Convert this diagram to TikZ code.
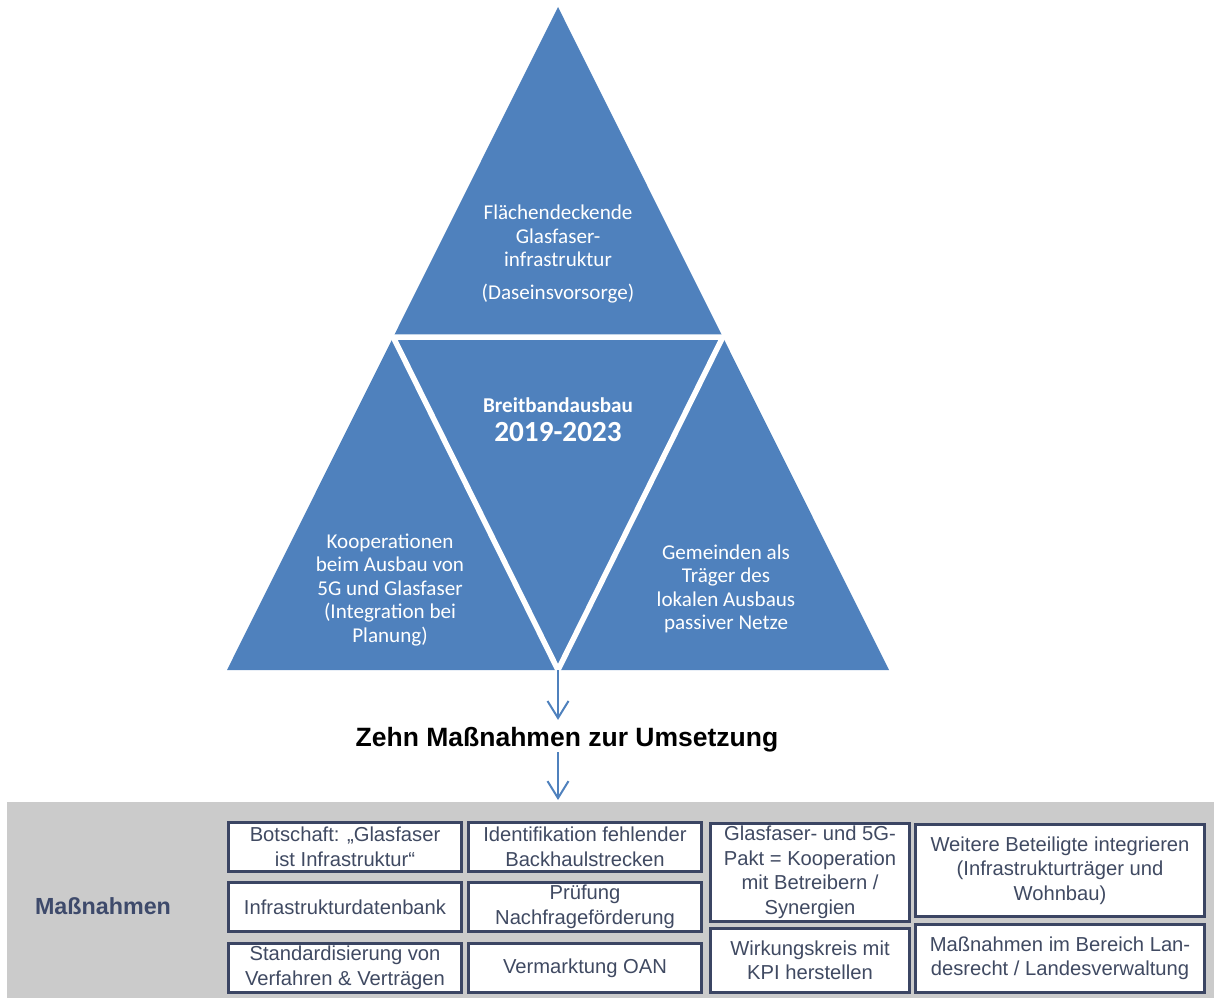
\documentclass[tikz,border=0pt]{standalone}
\usepackage{fontspec}
\usepackage{xcolor}
\usetikzlibrary{arrows.meta}
\newfontfamily\calib{Carlito}
\newfontfamily\arialfont{Liberation Sans}
\definecolor{pyrblue}{HTML}{4F81BD}
\definecolor{boxline}{HTML}{3B4563}
\definecolor{boxtext}{HTML}{404A62}
\definecolor{labelblue}{HTML}{3E4A6B}
\definecolor{bandgray}{HTML}{CBCBCB}

\begin{document}
\begin{tikzpicture}[x=1pt, y=-1pt,
    tritext/.style={text=white, align=center, inner sep=0pt, font=\calib\fontsize{21.1}{23.5}\selectfont},
    mbox/.style={draw=boxline, line width=3pt, fill=white, text=boxtext, align=center, inner sep=0pt,
      font=\arialfont\fontsize{20.2}{24.5}\selectfont},
    arr/.style={draw=pyrblue, line width=2pt, -{Straight Barb[length=17pt, width=21pt]}}]
      \useasboundingbox (0,0) rectangle (1214,998);
      \coordinate (pyrtop) at (558,7);
      \coordinate (pyrleft) at (227,670);
      \coordinate (pyrright) at (889,670);
      \coordinate (pyrbot) at (558,670);
      \coordinate (midleft) at (393.2,337);
      \coordinate (midright) at (722.8,337);
      \fill[pyrblue] (pyrleft) -- (pyrtop) -- (pyrright) -- cycle;
      \draw[white, line width=5.5pt] (midleft) -- (midright) -- (pyrbot) -- cycle;
      \node[tritext] (glasfaser) at (558,254) {Flächendeckende\\Glasfaser-\\infrastruktur\\[9pt](Daseinsvorsorge)};
      \node[tritext, font=\calib\bfseries\fontsize{21.1}{23.5}\selectfont] (ausbau) at (558,405) {Breitbandausbau};
      \node[tritext, font=\calib\bfseries\fontsize{29.2}{32}\selectfont] (zeitraum) at (558,432) {2019-2023};
      \node[tritext] (kooperation) at (390,590) {Kooperationen\\beim Ausbau von\\5G und Glasfaser\\(Integration bei\\Planung)};
      \node[tritext] (gemeinden) at (726,589) {Gemeinden als\\Träger des\\lokalen Ausbaus\\passiver Netze};
      \node[inner sep=0pt, font=\arialfont\bfseries\fontsize{26.5}{30}\selectfont] (umsetzung) at (567,739.5) {Zehn Maßnahmen zur Umsetzung};
      \node[fill=bandgray, minimum width=1207pt, minimum height=196pt, inner sep=0pt, anchor=north west] (band) at (7,802) {};
      \node[text=labelblue, font=\arialfont\bfseries\fontsize{23.3}{26}\selectfont] (massnahmen) at (103,906) {Maßnahmen};
      \node[mbox, minimum width=233pt, minimum height=49pt] (botschaft) at (345,847) {Botschaft: „Glasfaser\\ist Infrastruktur“};
      \node[mbox, minimum width=233pt, minimum height=49pt] (datenbank) at (345,907) {Infrastrukturdatenbank};
      \node[mbox, minimum width=233pt, minimum height=49pt] (standard) at (345,968) {Standardisierung von\\Verfahren \& Verträgen};
      \node[mbox, minimum width=233pt, minimum height=49pt] (backhaul) at (585,847) {Identifikation fehlender\\Backhaulstrecken};
      \node[mbox, minimum width=233pt, minimum height=49pt] (pruefung) at (585,907) {Prüfung\\Nachfrageförderung};
      \node[mbox, minimum width=233pt, minimum height=49pt] (oan) at (585,968) {Vermarktung OAN};
      \node[mbox, minimum width=199pt, minimum height=98pt] (pakt) at (810,872.5) {Glasfaser- und 5G-\\Pakt = Kooperation\\mit Betreibern /\\Synergien};
      \node[mbox, minimum width=199pt, minimum height=64pt] (kpi) at (810,960.5) {Wirkungskreis mit\\KPI herstellen};
      \node[mbox, minimum width=289pt, minimum height=92pt] (beteiligte) at (1060,870.5) {Weitere Beteiligte integrieren\\(Infrastrukturträger und\\Wohnbau)};
      \node[mbox, minimum width=289pt, minimum height=68pt] (landesrecht) at (1060,958.5) {Maßnahmen im Bereich Lan-\\desrecht / Landesverwaltung};
      \draw[arr, shorten >=7pt] (pyrbot) -- (umsetzung.north -| pyrbot);
      \draw[arr, shorten >=2pt] (umsetzung.south -| pyrbot) -- (band.north -| pyrbot);
    \end{tikzpicture}
\end{document}
